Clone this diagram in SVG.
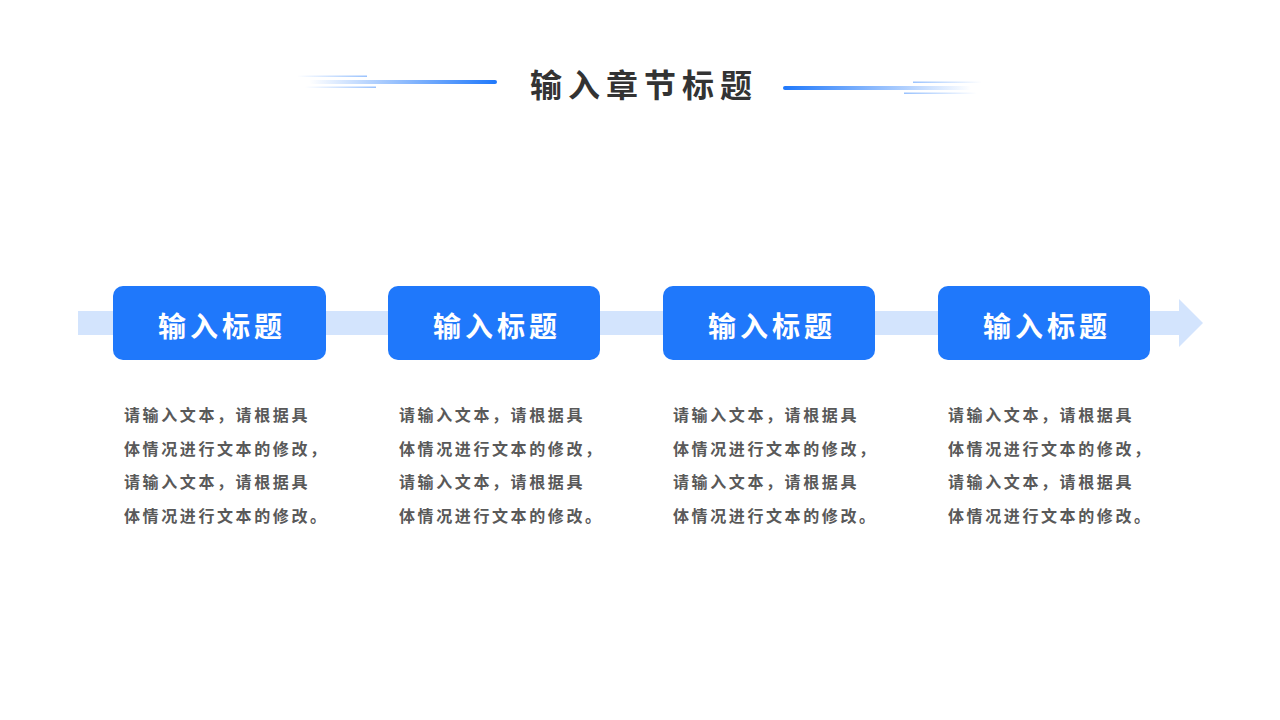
<svg xmlns="http://www.w3.org/2000/svg" width="1280" height="720" viewBox="0 0 1280 720">
<defs>
<linearGradient id="gL" x1="0" y1="0" x2="1" y2="0"><stop offset="0" stop-color="#1f78fb" stop-opacity="0"/><stop offset="1" stop-color="#1f78fb"/></linearGradient>
<linearGradient id="gR" x1="0" y1="0" x2="1" y2="0"><stop offset="0" stop-color="#1f78fb"/><stop offset="1" stop-color="#1f78fb" stop-opacity="0"/></linearGradient>
<linearGradient id="gLt" x1="0" y1="0" x2="1" y2="0"><stop offset="0" stop-color="#1f78fb" stop-opacity="0"/><stop offset="1" stop-color="#1f78fb" stop-opacity="0.45"/></linearGradient>
<linearGradient id="gRt" x1="0" y1="0" x2="1" y2="0"><stop offset="0" stop-color="#1f78fb" stop-opacity="0.45"/><stop offset="1" stop-color="#1f78fb" stop-opacity="0"/></linearGradient>
</defs>
<style>
.box{fill:#1f78fb}
.ttl{font-family:"Noto Sans CJK SC","Noto Sans",sans-serif;font-weight:bold;font-size:28px;fill:#ffffff;text-anchor:middle;letter-spacing:4px}
.body{font-family:"Noto Sans CJK SC","Noto Sans",sans-serif;font-weight:bold;font-size:16px;fill:#595959;letter-spacing:2.6px}
.head{font-family:"Noto Sans CJK SC","Noto Sans",sans-serif;font-weight:bold;font-size:32px;fill:#333333;text-anchor:middle;letter-spacing:6px}
</style>
<rect width="1280" height="720" fill="#ffffff"/>
<g id="header">
<rect x="309" y="80" width="188" height="4" rx="2" fill="url(#gL)"/>
<rect x="297" y="75.5" width="70" height="1.5" fill="url(#gLt)"/>
<rect x="305" y="86.5" width="71" height="1.5" fill="url(#gLt)"/>
<rect x="783" y="86" width="188" height="4" rx="2" fill="url(#gR)"/>
<rect x="913" y="81.5" width="69" height="1.5" fill="url(#gRt)"/>
<rect x="904" y="92.5" width="73" height="1.5" fill="url(#gRt)"/>
<text class="head" x="644" y="97">输入章节标题</text>
</g>
<g id="connectors">
<path d="M78 311 H1179 V299 L1203 323 L1179 347 V335 H78 Z" fill="#d3e4fd"/>
</g>
<g id="node1">
<rect class="box" x="113" y="286" width="213" height="74" rx="10"/>
<text class="ttl" x="222" y="337">输入标题</text>
<text class="body" x="124" y="421">请输入文本，请根据具</text>
<text class="body" x="124" y="455">体情况进行文本的修改，</text>
<text class="body" x="124" y="488">请输入文本，请根据具</text>
<text class="body" x="124" y="522">体情况进行文本的修改。</text>
</g>
<g id="node2">
<rect class="box" x="388" y="286" width="212" height="74" rx="10"/>
<text class="ttl" x="497" y="337">输入标题</text>
<text class="body" x="399" y="421">请输入文本，请根据具</text>
<text class="body" x="399" y="455">体情况进行文本的修改，</text>
<text class="body" x="399" y="488">请输入文本，请根据具</text>
<text class="body" x="399" y="522">体情况进行文本的修改。</text>
</g>
<g id="node3">
<rect class="box" x="663" y="286" width="212" height="74" rx="10"/>
<text class="ttl" x="772" y="337">输入标题</text>
<text class="body" x="673" y="421">请输入文本，请根据具</text>
<text class="body" x="673" y="455">体情况进行文本的修改，</text>
<text class="body" x="673" y="488">请输入文本，请根据具</text>
<text class="body" x="673" y="522">体情况进行文本的修改。</text>
</g>
<g id="node4">
<rect class="box" x="938" y="286" width="212" height="74" rx="10"/>
<text class="ttl" x="1047" y="337">输入标题</text>
<text class="body" x="948" y="421">请输入文本，请根据具</text>
<text class="body" x="948" y="455">体情况进行文本的修改，</text>
<text class="body" x="948" y="488">请输入文本，请根据具</text>
<text class="body" x="948" y="522">体情况进行文本的修改。</text>
</g>
</svg>
